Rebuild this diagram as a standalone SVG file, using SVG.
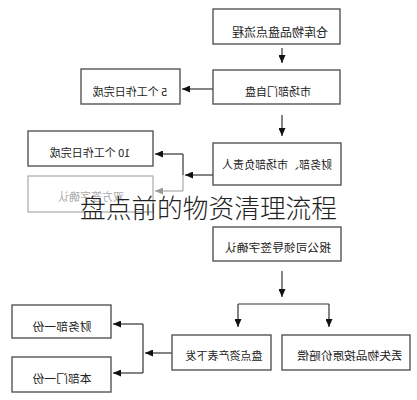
<svg xmlns="http://www.w3.org/2000/svg" width="417" height="400" viewBox="0 0 417 400">
<style>
.box{fill:#fff;stroke:#555;stroke-width:1.4}
.faded{fill:#fff;stroke:#aaa;stroke-width:1.2}
.t{font-family:"Noto Sans CJK SC","Noto Sans",sans-serif;font-size:11px;fill:#222;text-anchor:middle}
.tf{fill:#aaa}
.c{fill:none;stroke:#333;stroke-width:1.2}
.cf{fill:none;stroke:#999;stroke-width:1}
.title{font-family:"Noto Sans CJK SC","Noto Sans",sans-serif;font-size:25.7px;font-weight:300;fill:#222}
</style>
<defs>
<marker id="ah" markerWidth="8" markerHeight="7" refX="8" refY="3.5" orient="auto" markerUnits="userSpaceOnUse"><path d="M0,0 L8,3.5 L0,7 z" fill="#111"/></marker>
<marker id="ahf" markerWidth="8" markerHeight="7" refX="8" refY="3.5" orient="auto" markerUnits="userSpaceOnUse"><path d="M0,0 L8,3.5 L0,7 z" fill="#999"/></marker>
</defs>
<rect width="417" height="400" fill="#fff"/>
<g id="connectors">
<path class="c" d="M282,48 V63" marker-end="url(#ah)"/>
<path class="c" d="M213,89 H182" marker-end="url(#ah)"/>
<path class="c" d="M282,115 V136" marker-end="url(#ah)"/>
<path class="c" d="M213,175 H185" marker-end="url(#ah)"/>
<path class="c" d="M183,175 V154"/>
<path class="c" d="M183,154 H155" marker-end="url(#ah)"/>
<path class="cf" d="M183,175 V191"/>
<path class="cf" d="M183,191 H155" marker-end="url(#ahf)"/>
<path class="c" d="M282,271 V297" marker-end="url(#ah)"/>
<path class="c" d="M238,304 H329"/>
<path class="c" d="M238,304 V327" marker-end="url(#ah)"/>
<path class="c" d="M329,304 V327" marker-end="url(#ah)"/>
<path class="c" d="M172,353 H145" marker-end="url(#ah)"/>
<path class="c" d="M143,324 V373"/>
<path class="c" d="M143,324 H113" marker-end="url(#ah)"/>
<path class="c" d="M143,373 H113" marker-end="url(#ah)"/>
</g>
<g id="n1"><rect class="box" x="213" y="9" width="127" height="35"/><text class="t" style="font-size:12px" x="-280" y="37" transform="scale(-1,1)">仓库物品盘点流程</text></g>
<g id="n2"><rect class="box" x="213" y="70" width="127" height="34"/><text class="t" x="-278" y="96" transform="scale(-1,1)">市场部门自盘</text></g>
<g id="n3"><rect class="box" x="81" y="69" width="99" height="35"/><text class="t" x="-130" y="96" transform="scale(-1,1)">5 个工作日完成</text></g>
<g id="n4"><rect class="box" x="213" y="143" width="128" height="42"/><text class="t" x="-277" y="169" transform="scale(-1,1)">财务部、市场部负责人</text></g>
<g id="n5"><rect class="box" x="28" y="131" width="125" height="35"/><text class="t" x="-90" y="157" transform="scale(-1,1)">10 个工作日完成</text></g>
<g id="n6"><rect class="faded" x="28" y="176" width="125" height="36"/><text class="t tf" x="-91" y="201" transform="scale(-1,1)">双方签字确认</text></g>
<g id="n7"><rect class="box" x="213" y="227" width="128" height="34"/><text class="t" style="font-size:11.8px" x="-278" y="252" transform="scale(-1,1)">报公司领导签字确认</text></g>
<g id="n8"><rect class="box" x="172" y="335" width="99" height="35"/><text class="t" x="-224" y="360" transform="scale(-1,1)">盘点资产表下发</text></g>
<g id="n9"><rect class="box" x="282" y="335" width="128" height="35"/><text class="t" style="font-size:11.7px" x="-350" y="360" transform="scale(-1,1)">丢失物品按原价赔偿</text></g>
<g id="n10"><rect class="box" x="12" y="305" width="99" height="33"/><text class="t" style="font-size:11.8px" x="-62" y="331" transform="scale(-1,1)">财务部一份</text></g>
<g id="n11"><rect class="box" x="12" y="357" width="99" height="35"/><text class="t" style="font-size:11.8px" x="-62" y="383" transform="scale(-1,1)">本部门一份</text></g>
<text class="title" x="80" y="218" textLength="257" lengthAdjust="spacing">盘点前的物资清理流程</text>
</svg>
